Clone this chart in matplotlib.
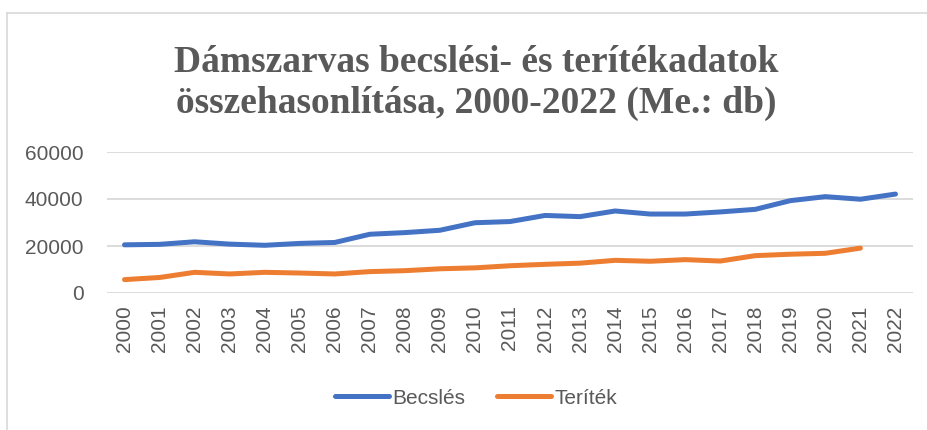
import matplotlib
matplotlib.use("Agg")
from matplotlib import pyplot as plt
from matplotlib.lines import Line2D

years = list(range(2000, 2023))
becsles = [20500, 20700, 21800, 20800, 20300, 21100, 21500, 25000, 25700, 26700,
           29900, 30400, 33000, 32500, 34900, 33600, 33600, 34500, 35600, 39300,
           41000, 39900, 42100]
teritek = [5700, 6600, 8800, 8100, 8800, 8500, 8100, 9100, 9500, 10300,
           10700, 11600, 12200, 12700, 13900, 13500, 14200, 13600, 15900, 16500,
           16900, 19100]
yticks = [0, 20000, 40000, 60000]

gray = "#595959"
blue = "#4472C4"
orange = "#ED7D31"

fig = plt.figure(figsize=(9.28, 4.30), dpi=100)
ax = fig.add_axes([107/928, 1-293/430, (913-107)/928, (293-152)/430])

ax.plot(years, becsles, color=blue, lw=3.6, solid_capstyle="round", label="Becslés")
ax.plot(years[:len(teritek)], teritek, color=orange, lw=3.6, solid_capstyle="round", label="Teríték")

ax.set_xlim(1999.5, 2022.5)
ax.set_ylim(0, 60000)
ax.set_yticks(yticks)
ax.set_xticks(years)
ax.set_xticklabels([str(y) for y in years], rotation=90)
ax.yaxis.grid(True, color="#D9D9D9", lw=1.3)
ax.set_axisbelow(True)
for s in ax.spines.values():
    s.set_visible(False)
ax.tick_params(length=0, labelsize=15, labelcolor=gray, pad=9,
               labelfontfamily="Liberation Sans")
ax.tick_params(axis="y", pad=17)

fig.text(0.513, 1-83/430, "Dámszarvas becslési- és terítékadatok\nösszehasonlítása, 2000-2022 (Me.: db)",
         ha="center", va="center", fontsize=27, fontweight="bold", color=gray,
         family="Liberation Serif", linespacing=1.2)

handles = [Line2D([0], [0], color=blue, lw=3.6, solid_capstyle="round"),
           Line2D([0], [0], color=orange, lw=3.6, solid_capstyle="round")]
leg = fig.legend(handles, ["Becslés", "Teríték"], loc="center", bbox_to_anchor=(0.513, 1-398/430),
                 ncol=2, frameon=False, handlelength=2.6, handletextpad=0.15, columnspacing=1.5,
                 prop={"family": "Liberation Sans", "size": 15})
for t in leg.get_texts():
    t.set_color(gray)

# chart border (left and top edges)
fig.add_artist(Line2D([7/928, 7/928], [0, 1-13/430], color="#D9D9D9", lw=1.2))
fig.add_artist(Line2D([7/928, 1], [1-13/430, 1-13/430], color="#D9D9D9", lw=1.2))

fig.savefig("out.png", dpi=100)
